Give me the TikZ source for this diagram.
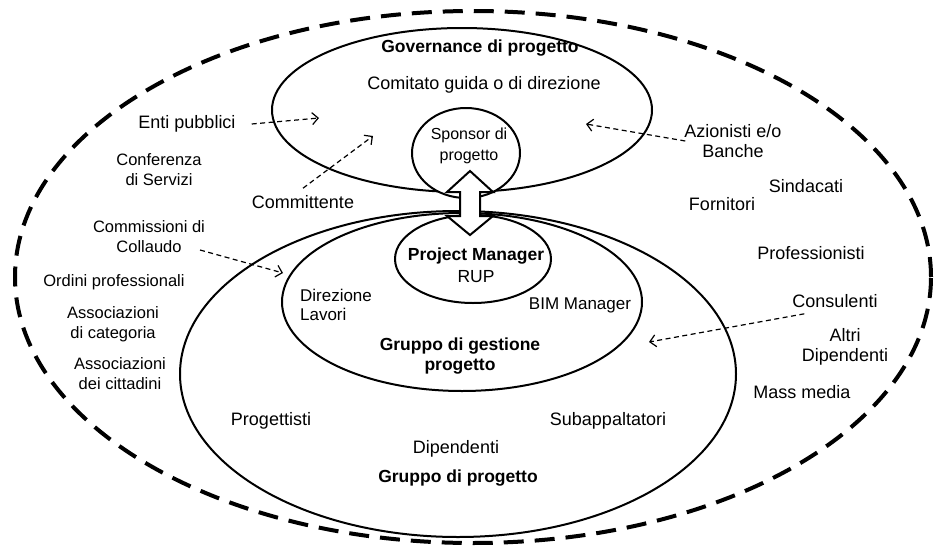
\documentclass[tikz,border=0pt]{standalone}
\usepackage{fontspec}
\setmainfont{Liberation Sans}
\usetikzlibrary{arrows.meta}
\begin{document}
\begin{tikzpicture}[x=1pt,y=-1pt,
  lbl/.style={inner sep=2pt, align=center, font=\fontsize{18}{20.5}\selectfont},
  sml/.style={inner sep=2pt, align=center, font=\fontsize{16.5}{20}\selectfont},
  ttl/.style={inner sep=2pt, align=center, font=\fontsize{17.5}{20.5}\selectfont\bfseries},
  ring/.style={draw=black, line width=2pt},
  boundary/.style={draw=black, line width=4pt, dash pattern=on 20pt off 11pt},
  influence/.style={draw=black, line width=1.2pt, dash pattern=on 5pt off 3.5pt,
    -{Straight Barb[length=6pt,width=12pt,line width=1.2pt]}}]
\useasboundingbox (0,0) rectangle (935,549);

% stakeholder boundary
\draw[boundary] (473,277) ellipse [x radius=458pt, y radius=266pt];

% project team rings
\draw[ring] (458,374) ellipse [x radius=278pt, y radius=163pt];
\draw[ring] (462,302) ellipse [x radius=180pt, y radius=89pt];
\draw[ring, fill=white] (473,259) ellipse [x radius=78pt, y radius=44pt];

% governance ring and sponsor
\draw[ring] (462,110) ellipse [x radius=190pt, y radius=82pt];
\draw[ring, fill=white] (466,153) ellipse [x radius=54pt, y radius=45pt];

% two-way link between governance and project management
\draw[ring, fill=white] (470,171) -- (493,192) -- (480,192) -- (480,216) -- (493,216)
  -- (470,235) -- (447,216) -- (460,216) -- (460,192) -- (447,192) -- cycle;

% governance
\node[ttl] (gov) at (480,48) {Governance di progetto};
\node[lbl] (comitato) at (484,85) {Comitato guida o di direzione};
\node[sml, font=\fontsize{16}{21}\selectfont] (sponsor) at (469,146) {Sponsor di\\progetto};

% management
\node[ttl, font=\fontsize{17.5}{22}\selectfont] (pm) at (476,265) {\textbf{Project Manager}\\RUP};
\node[lbl, align=left, font=\fontsize{17}{19.5}\selectfont] (dl) at (336,305) {Direzione\\Lavori};
\node[lbl, font=\fontsize{17}{20}\selectfont] (bim) at (580,305) {BIM Manager};
\node[ttl, font=\fontsize{17.5}{20}\selectfont\bfseries] (gest) at (460,356) {Gruppo di gestione\\progetto};

% project team
\node[lbl] (progettisti) at (271,421) {Progettisti};
\node[lbl] (dipendenti) at (456,449) {Dipendenti};
\node[lbl] (subapp) at (608,421) {Subappaltatori};
\node[ttl] (gruppo) at (458,478) {Gruppo di progetto};

% external stakeholders, left
\node[lbl] (enti) at (187,124) {Enti pubblici};
\node[sml] (conf) at (159,170) {Conferenza\\di Servizi};
\node[lbl] (committ) at (303,202) {Committente};
\node[sml] (collaudo) at (149,237) {Commissioni di\\Collaudo};
\node[sml] (ordini) at (114,282) {Ordini professionali};
\node[sml] (categoria) at (113,324) {Associazioni\\di categoria};
\node[sml] (cittadini) at (120,374) {Associazioni\\dei cittadini};

% external stakeholders, right
\node[lbl] (azion) at (733,141) {Azionisti e/o\\Banche};
\node[lbl] (sind) at (806,186) {Sindacati};
\node[lbl] (forn) at (722,204) {Fornitori};
\node[lbl] (prof) at (811,253) {Professionisti};
\node[lbl] (consul) at (835,301) {Consulenti};
\node[lbl] (altri) at (845,347) {Altri\\Dipendenti};
\node[lbl] (mass) at (802,392) {Mass media};

% influence arrows
\coordinate (entiTip) at (319,118);
\coordinate (committTip) at (373,136);
\coordinate (collS) at (200,250);
\coordinate (collTip) at (283,273);
\coordinate (azionTip) at (586,124);
\coordinate (consulTip) at (649,342);

\draw[influence] ([xshift=14pt]enti.east) -- (entiTip);
\draw[influence] ([yshift=5pt]committ.north) -- (committTip);
\draw[influence] (collS) -- (collTip);
\draw[influence] ([xshift=3pt]azion.west) -- (azionTip);
\draw[influence] ([xshift=14pt,yshift=-4pt]consul.south west) -- (consulTip);
\end{tikzpicture}
\end{document}
